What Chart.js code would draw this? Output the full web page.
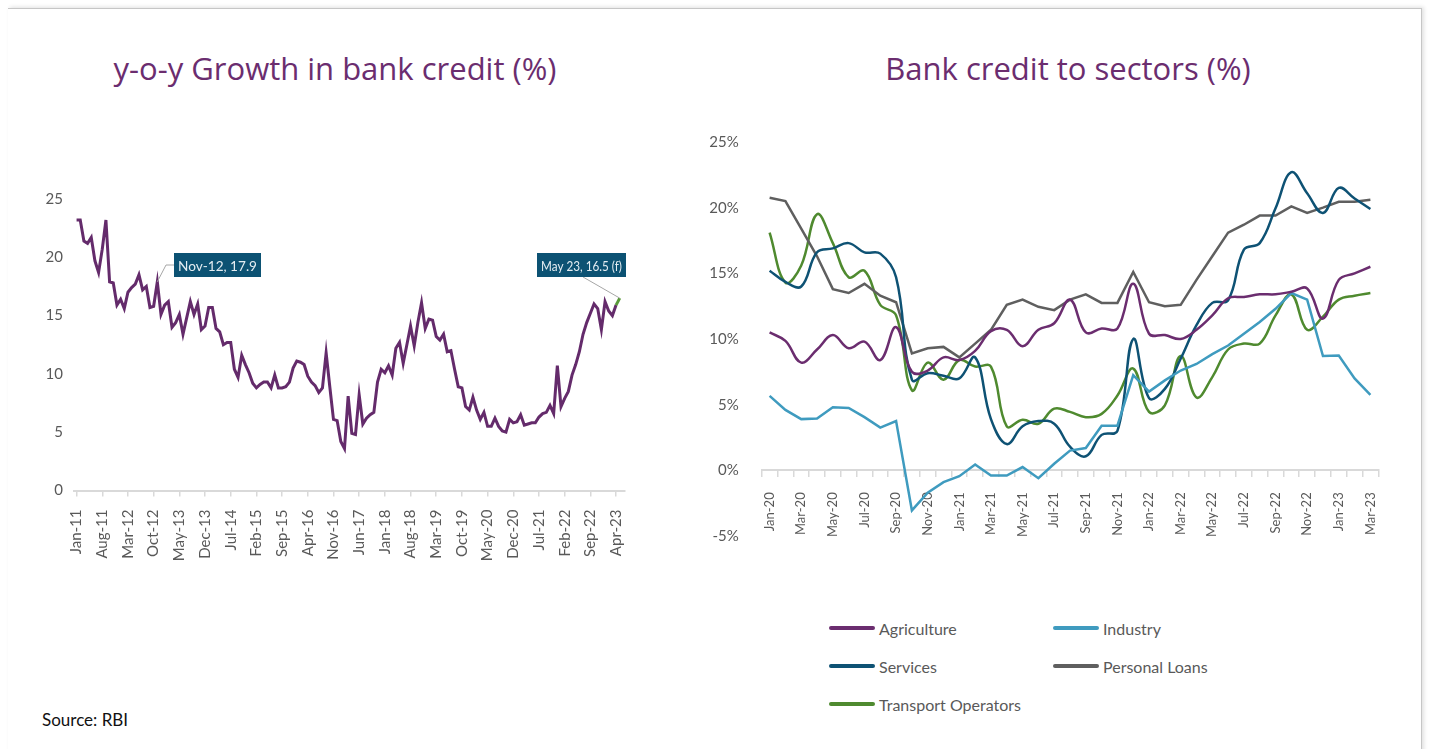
<!DOCTYPE html>
<html>
<head>
<meta charset="utf-8">
<script src="https://cdn.jsdelivr.net/npm/chart.js@4.4.0/dist/chart.umd.min.js"></script>
<style>
  body { margin: 0; background: #fff; width: 1432px; height: 749px; overflow: hidden; position: relative; font-family: Lato, sans-serif; }
  .card { position: absolute; left: 8px; top: 8px; width: 1413px; height: 760px; border-top: 1px solid #c6c6c6; border-right: 1px solid #c6c6c6; box-shadow: 2px -1px 4px rgba(0,0,0,0.12); }
  .title { position: absolute; top: 49px; line-height: 38px; font-family: 'Open Sans', sans-serif; font-size: 31px; color: #6b2d6f; white-space: nowrap; transform: translateX(-50%); }
  canvas { position: absolute; }
  #legend { position: absolute; left: 829px; top: 609px; display: grid; grid-template-columns: 224px 224px; grid-auto-rows: 38px; }
  .item { display: flex; align-items: center; font-size: 16px; color: #595959; }
  .swatch { width: 46px; height: 4px; border-radius: 2px; margin-right: 4px; }
  .source { position: absolute; left: 42px; top: 709px; font-size: 17px; color: #111; }
</style>
</head>
<body>
<div class="card"></div>
<div class="title" style="left:335px">y-o-y Growth in bank credit (%)</div>
<div class="title" style="left:1068px">Bank credit to sectors (%)</div>
<canvas id="growth" width="660" height="420" style="left:0px;top:180px"></canvas>
<canvas id="sectors" width="740" height="440" style="left:680px;top:120px"></canvas>
<div id="legend"></div>
<div class="source">Source: RBI</div>
<script>
// left chart: monthly y-o-y growth, Jan-11 .. May-23 (last point is a forecast)
const growthValues = [
  23.2, 23.2, 21.4, 21.2, 21.7, 19.7, 18.7, 20.7, 23.2, 17.9, 17.8, 15.9,
  16.4, 15.6, 17.0, 17.4, 17.7, 18.5, 17.2, 17.5, 15.7, 15.8, 17.9, 15.1,
  15.9, 16.2, 14.0, 14.4, 15.1, 13.4, 14.8, 16.2, 15.1, 16.0, 13.8, 14.1,
  15.7, 15.7, 13.9, 13.6, 12.5, 12.7, 12.7, 10.4, 9.7, 11.6, 10.8, 10.1,
  9.2, 8.8, 9.1, 9.3, 9.3, 8.8, 9.9, 8.8, 8.8, 8.9, 9.3, 10.5,
  11.1, 11.0, 10.8, 9.8, 9.3, 9.0, 8.4, 8.8, 11.8, 8.9, 6.1, 6.0,
  4.2, 3.6, 8.1, 4.9, 4.8, 8.2, 5.7, 6.2, 6.5, 6.7, 9.3, 10.4,
  10.1, 10.7, 9.9, 12.2, 12.7, 10.9, 12.5, 14.1, 12.4, 14.4, 16.1, 13.9,
  14.7, 14.6, 13.2, 12.9, 13.4, 11.9, 12.0, 10.4, 8.9, 8.8, 7.2, 6.9,
  8.0, 6.9, 6.1, 6.7, 5.5, 5.5, 6.2, 5.5, 5.1, 5.0, 6.1, 5.8,
  5.9, 6.5, 5.6, 5.7, 5.8, 5.8, 6.3, 6.6, 6.7, 7.3, 6.6, 10.7,
  7.2, 7.9, 8.5, 9.9, 10.8, 11.9, 13.4, 14.4, 15.2, 16.0, 15.6, 13.8,
  16.2, 15.4, 15.0, 15.9, 16.5
];
const growthTickLabels = ['Jan-11','Aug-11','Mar-12','Oct-12','May-13','Dec-13','Jul-14','Feb-15',
  'Sep-15','Apr-16','Nov-16','Jun-17','Jan-18','Aug-18','Mar-19','Oct-19','May-20','Dec-20',
  'Jul-21','Feb-22','Sep-22','Apr-23'];
const growthTickStep = 7; // months between labels

// right chart: credit growth by sector, Jan-20 .. Mar-23
const sectorMonths = ['Jan-20','Feb-20','Mar-20','Apr-20','May-20','Jun-20','Jul-20','Aug-20','Sep-20','Oct-20','Nov-20','Dec-20',
  'Jan-21','Feb-21','Mar-21','Apr-21','May-21','Jun-21','Jul-21','Aug-21','Sep-21','Oct-21','Nov-21','Dec-21',
  'Jan-22','Feb-22','Mar-22','Apr-22','May-22','Jun-22','Jul-22','Aug-22','Sep-22','Oct-22','Nov-22','Dec-22',
  'Jan-23','Feb-23','Mar-23'];
const agriculture = [10.5, 9.85, 8.2, 9.2, 10.3, 9.3, 9.8, 8.4, 10.9, 7.5, 7.6, 8.6, 8.4, 9.1, 10.6, 10.7, 9.45, 10.7,
  11.2, 13.0, 10.5, 10.8, 10.8, 14.2, 10.4, 10.3, 10.0, 10.7, 11.8, 13.1, 13.2, 13.4, 13.4, 13.6, 13.85, 11.55, 14.5, 15.0, 15.5];
const industry = [5.67, 4.6, 3.9, 3.95, 4.8, 4.75, 4.05, 3.25, 3.75, -3.05, -1.7, -0.9, -0.45, 0.45, -0.4, -0.4, 0.25, -0.6,
  0.5, 1.5, 1.7, 3.4, 3.4, 7.25, 6.0, 6.85, 7.6, 8.1, 8.85, 9.5, 10.4, 11.3, 12.3, 13.5, 13.0, 8.7, 8.75, 7.0, 5.75];
const services = [15.2, 14.35, 14.0, 16.6, 16.9, 17.3, 16.6, 16.5, 14.7, 6.9, 7.4, 7.2, 7.0, 8.6, 3.9, 2.0, 3.35, 3.75,
  3.55, 1.8, 1.07, 2.7, 3.0, 10.0, 5.5, 6.2, 8.5, 11.05, 12.75, 12.95, 16.8, 17.3, 19.95, 22.7, 21.1, 19.6, 21.5, 20.7, 19.9];
const personalLoans = [20.76, 20.5, 18.4, 16.3, 13.8, 13.5, 14.2, 13.3, 12.8, 8.9, 9.3, 9.4, 8.6, 9.65, 10.7, 12.6, 13.0, 12.45,
  12.2, 13.0, 13.4, 12.75, 12.75, 15.1, 12.8, 12.5, 12.6, 14.5, 16.3, 18.1, 18.7, 19.4, 19.4, 20.1, 19.6, 20.0, 20.45, 20.45, 20.6];
const transport = [18.1, 14.3, 15.6, 19.5, 17.3, 14.7, 15.2, 12.6, 11.8, 6.1, 8.2, 6.9, 8.4, 7.9, 7.9, 3.35, 3.85, 3.55,
  4.7, 4.45, 4.05, 4.3, 5.7, 7.75, 4.45, 4.95, 8.7, 5.55, 7.1, 9.2, 9.65, 9.65, 11.8, 13.4, 10.7, 11.7, 13.0, 13.3, 13.5];

const GREY = '#595959';
const AXIS = '#d9d9d9';
const PURPLE = '#642b6b';

// callouts on the left chart (box positions are page coords)
const callouts = [
  { index: 22, text: 'Nov-12, 17.9', box: [174, 253, 87, 24], from: [174, 265], elbow: [166, 265] },
  { index: 148, text: 'May 23, 16.5 (f)', box: [537, 253, 89, 24], from: [583, 277], elbow: null }
];
const growthTop = 180;

const calloutPlugin = {
  id: 'callouts',
  afterDatasetsDraw(chart) {
    const { ctx, scales: { x, y } } = chart;
    ctx.save();
    callouts.forEach(c => {
      const px = x.getPixelForValue(c.index);
      const py = y.getPixelForValue(growthValues[c.index]);
      ctx.strokeStyle = '#a6a6a6';
      ctx.lineWidth = 1;
      ctx.beginPath();
      ctx.moveTo(c.from[0], c.from[1] - growthTop);
      if (c.elbow) ctx.lineTo(c.elbow[0], c.elbow[1] - growthTop);
      ctx.lineTo(px, py);
      ctx.stroke();
      const [bx, by, bw, bh] = c.box;
      ctx.fillStyle = '#0c5273';
      ctx.fillRect(bx, by - growthTop, bw, bh);
      ctx.fillStyle = '#e4edf2';
      ctx.font = '14px Lato';
      ctx.textAlign = 'center';
      ctx.textBaseline = 'middle';
      ctx.fillText(c.text, bx + bw / 2, by - growthTop + bh / 2 + 1, bw - 8);
    });
    ctx.restore();
  }
};

const lastIdx = growthValues.length - 1;
// invisible tick marks push the y labels away from the plot without adding vertical padding
const hiddenTicks = len => ({ display: true, drawOnChartArea: false, drawTicks: true, tickLength: len, color: 'rgba(0,0,0,0)' });

new Chart(document.getElementById('growth'), {
  type: 'line',
  data: {
    datasets: [{
      data: growthValues.map((v, i) => ({ x: i, y: v })),
      borderColor: PURPLE,
      borderWidth: 3,
      pointRadius: 0,
      tension: 0,
      segment: { borderColor: ctx => ctx.p1DataIndex === lastIdx ? '#5a9a3a' : PURPLE }
    }]
  },
  options: {
    responsive: false,
    animation: false,
    layout: { padding: { top: 19, right: 35.5, left: 0, bottom: 0 } },
    plugins: { legend: { display: false }, tooltip: { enabled: false } },
    scales: {
      x: {
        type: 'linear', min: -0.7, max: 149.3,
        afterBuildTicks: s => { s.ticks = growthTickLabels.map((_, k) => ({ value: k * growthTickStep })); },
        afterFit: s => { s.height = 109.5; },
        ticks: {
          autoSkip: false, minRotation: 90, maxRotation: 90, padding: 13, color: GREY,
          font: { family: 'Lato', size: 15 },
          callback: v => growthTickLabels[Math.round(v / growthTickStep)]
        },
        grid: { drawOnChartArea: false, tickLength: 6, color: AXIS, lineWidth: 1.5 },
        border: { display: true, color: AXIS, width: 2 }
      },
      y: {
        min: 0, max: 25,
        afterFit: s => { s.width = 74; },
        ticks: { stepSize: 5, padding: 0, color: GREY, font: { family: 'Lato', size: 15 } },
        grid: hiddenTicks(11),
        border: { display: false }
      }
    }
  },
  plugins: [calloutPlugin]
});

const sectorSeries = [
  { label: 'Agriculture', data: agriculture, color: '#6b2d6f', tension: 0.4 },
  { label: 'Industry', data: industry, color: '#3f9bbf', tension: 0 },
  { label: 'Services', data: services, color: '#0e5274', tension: 0.4 },
  { label: 'Personal Loans', data: personalLoans, color: '#5f5f5f', tension: 0 },
  { label: 'Transport Operators', data: transport, color: '#4f8a2f', tension: 0.4 }
];

new Chart(document.getElementById('sectors'), {
  type: 'line',
  data: {
    labels: sectorMonths,
    datasets: sectorSeries.map(s => ({
      label: s.label, data: s.data, borderColor: s.color, borderWidth: 2.5,
      pointRadius: 0, tension: s.tension
    }))
  },
  options: {
    responsive: false,
    animation: false,
    layout: { padding: { top: 22, right: 41.7, bottom: 24, left: 0 } },
    plugins: { legend: { display: false }, tooltip: { enabled: false } },
    scales: {
      x: {
        type: 'category', offset: true, position: { y: 0 },
        afterFit: s => { s.height = 0; },
        ticks: {
          autoSkip: false, minRotation: 90, maxRotation: 90, padding: 16, color: GREY,
          font: { family: 'Lato', size: 13 },
          callback: (v, i) => i % 2 === 0 ? sectorMonths[i] : ''
        },
        grid: { drawOnChartArea: false, offset: true, tickLength: 6, color: AXIS, lineWidth: 1.5 },
        border: { display: true, color: AXIS, width: 2 }
      },
      y: {
        min: -5, max: 25,
        afterFit: s => { s.width = 81.7; },
        ticks: { stepSize: 5, padding: 0, color: GREY, font: { family: 'Lato', size: 15 }, callback: v => v + '%' },
        grid: hiddenTicks(23),
        border: { display: false }
      }
    }
  }
});

// legend, two columns
const legend = document.getElementById('legend');
sectorSeries.forEach(s => {
  const item = document.createElement('div');
  item.className = 'item';
  item.innerHTML = '<span class="swatch" style="background:' + s.color + '"></span>' + s.label;
  legend.appendChild(item);
});
</script>
</body>
</html>
